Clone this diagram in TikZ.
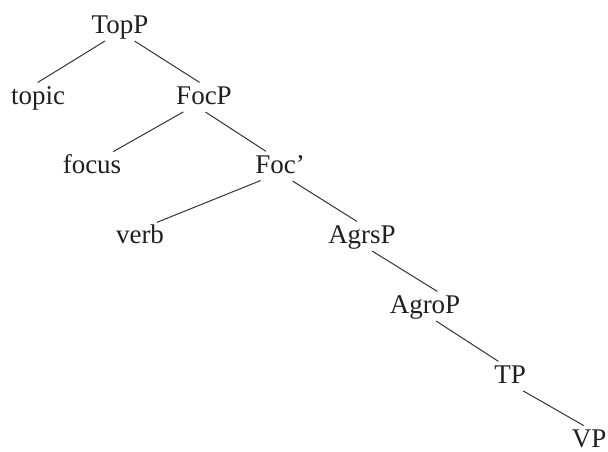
\documentclass[tikz,border=0pt]{standalone}
\usepackage{fontspec}
\setmainfont{Liberation Serif}
\usepackage{tikz}

\begin{document}
\begin{tikzpicture}[x=0.5pt,y=-0.5pt,
		lbl/.style={anchor=base,inner sep=0pt,text height=9pt,text depth=3pt,
			font=\fontsize{13.5}{16}\selectfont,text=black!88},
		edge/.style={draw=black!80,line width=0.5pt,shorten <=1.5pt,shorten >=3pt}]
				\useasboundingbox (0,0) rectangle (608,451);
				\node[lbl] (TopP) at (120,33) {TopP};
				\node[lbl] (topic) at (38,104) {topic};
				\node[lbl] (FocP) at (204,104) {FocP};
				\node[lbl] (focus) at (92,173) {focus};
				\node[lbl] (Foc) at (280,173) {Foc'};
				\node[lbl] (verb) at (140,243) {verb};
				\node[lbl] (AgrsP) at (362,243) {AgrsP};
				\node[lbl] (AgroP) at (425,313) {AgroP};
				\node[lbl] (TP) at (510,383) {TP};
				\node[lbl] (VP) at (589,447) {VP};
				\draw[edge] ([xshift=-6.2pt]TopP.south) -- ([xshift=-2.7pt]topic.north);
				\draw[edge] ([xshift=6pt]TopP.south) -- ([xshift=0.3pt]FocP.north);
				\draw[edge] ([xshift=-9pt]FocP.south) -- ([xshift=8pt]focus.north);
				\draw[edge] ([xshift=-0.5pt]FocP.south) -- ([xshift=-4.5pt]Foc.north);
				\draw[edge] ([xshift=-8.3pt]Foc.south) -- ([xshift=5.7pt]verb.north);
				\draw[edge] ([xshift=5pt]Foc.south) -- (AgrsP.north);
				\draw[edge] ([xshift=3.8pt]AgrsP.south) -- ([xshift=8.7pt]AgroP.north);
				\draw[edge] ([xshift=4.3pt]AgroP.south) -- ([xshift=-3.3pt]TP.north);
				\draw[edge] ([xshift=5.3pt]TP.south) -- (VP.north);
\end{tikzpicture}
\end{document}
